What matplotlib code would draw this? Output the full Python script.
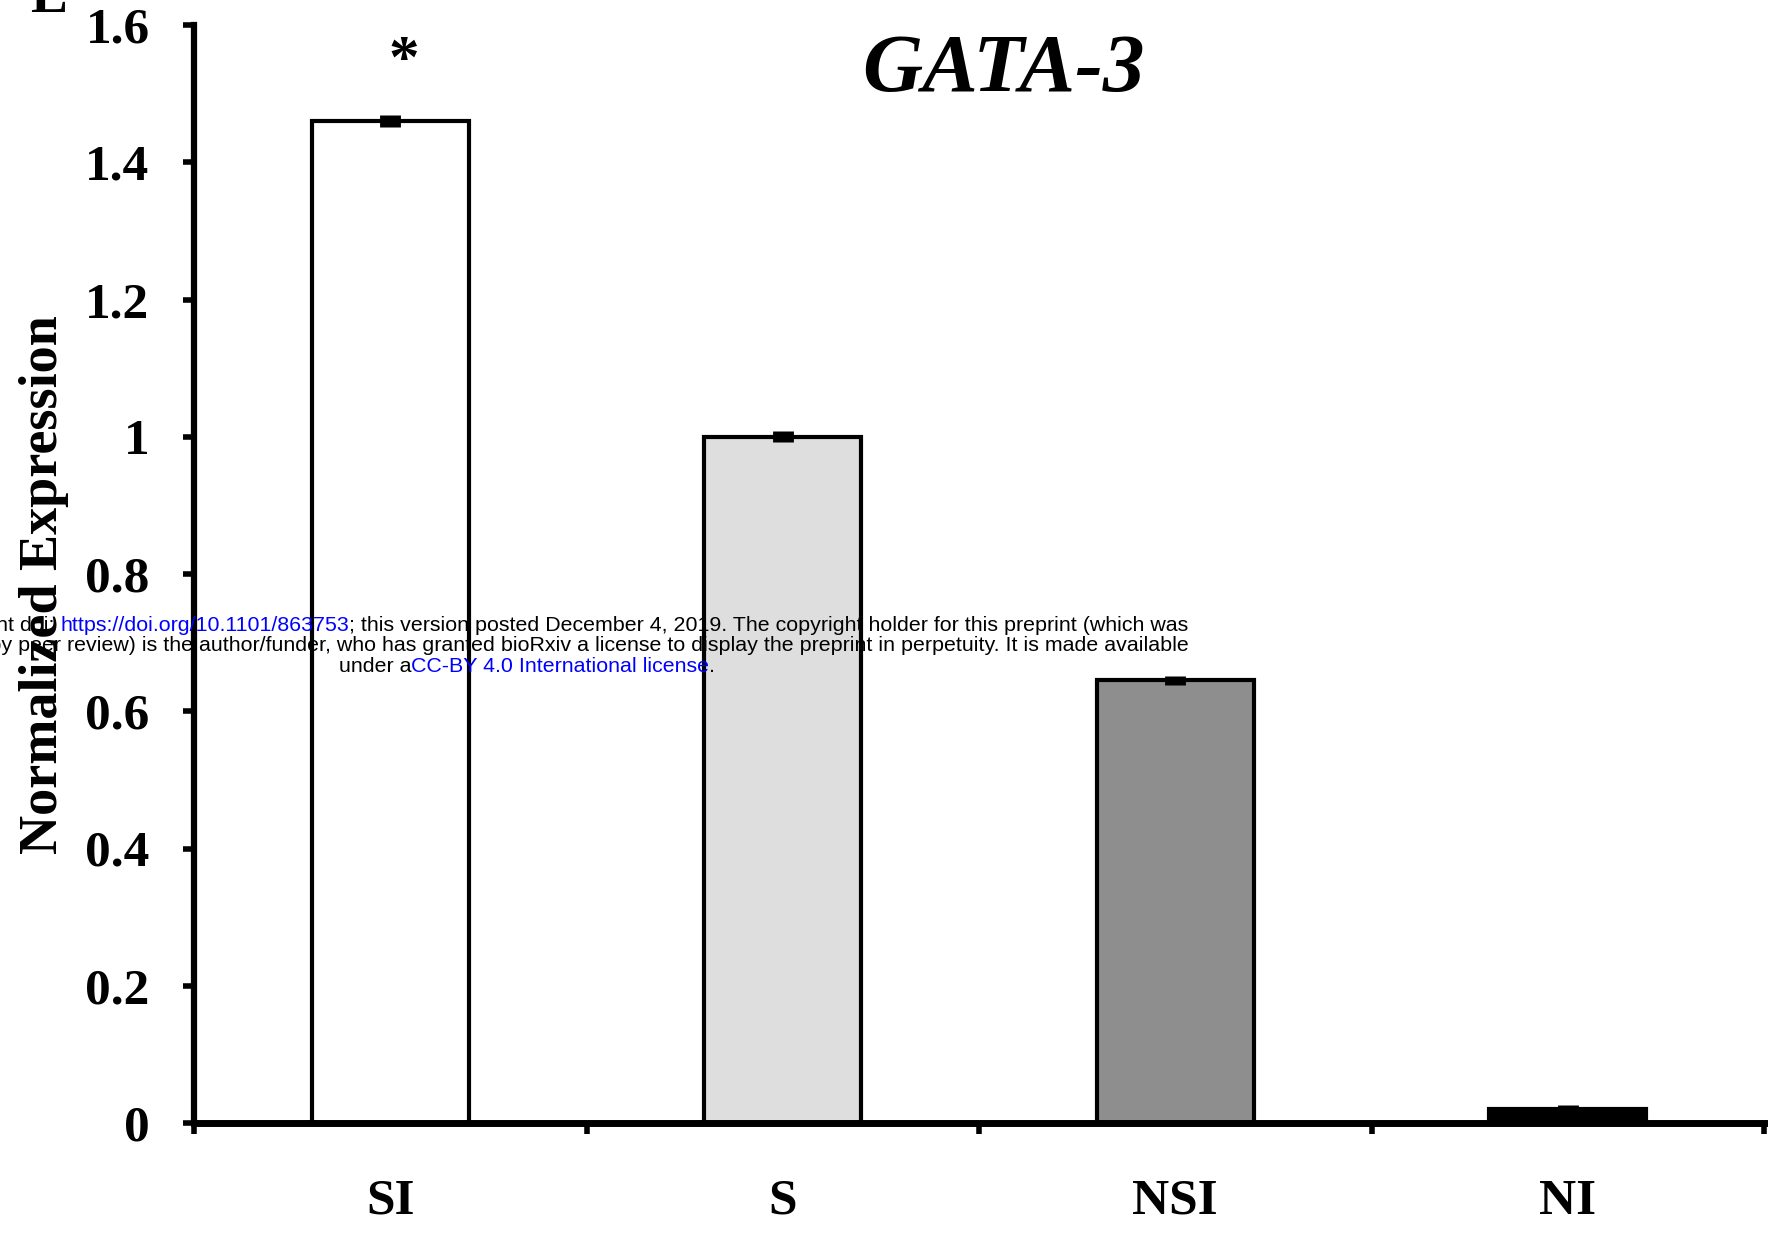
import numpy as np
import matplotlib
matplotlib.use('Agg')
import matplotlib.pyplot as plt

# GATA-3 expression per group
groups = ['SI', 'S', 'NSI', 'NI']
expression = [1.46, 1.0, 0.645, 0.02]
errors = [0.009, 0.008, 0.007, 0.006]
barColors = ['#ffffff', '#dedede', '#8e8e8e', '#000000']
significance = ['*', '', '', '']

yTicks = [0, 0.2, 0.4, 0.6, 0.8, 1.0, 1.2, 1.4, 1.6]
yTickLabels = ['0', '0.2', '0.4', '0.6', '0.8', '1', '1.2', '1.4', '1.6']

# preprint notice lines, (text, colour) pieces
notice = [
    [("bioRxiv preprint doi: ", 'black'),
     ("https://doi.org/10.1101/863753", 'blue'),
     ("; this version posted December 4, 2019. The copyright holder for this preprint (which was", 'black')],
    [("was not certified by peer review) is the author/funder, who has granted bioRxiv a license to display the preprint in perpetuity. It is made available", 'black')],
    [("under a", 'black'),
     ("CC-BY 4.0 International license", 'blue'),
     (".", 'black')],
]

W, H = 1773, 1233
plt.rcParams['font.family'] = ['Liberation Serif', 'DejaVu Serif']
plt.rcParams['font.weight'] = 'bold'

fig = plt.figure(figsize=(W / 100, H / 100), dpi=100)
ax = fig.add_axes([194 / W, 1 - 1123 / H, (1764 - 194) / W, (1123 - 25) / H])

x = np.arange(len(groups))
ax.bar(x, expression, width=0.40, color=barColors, edgecolor='black', linewidth=3.0, zorder=2)
ax.errorbar(x, expression, yerr=errors, fmt='none', ecolor='black', elinewidth=15, capsize=0, zorder=3)

for i in range(len(groups)):
    if significance[i]:
        ax.text(x[i] + 0.035, expression[i] + 0.045, significance[i], ha='center', va='bottom',
                fontsize=44, fontweight='bold')

ax.set_xlim(-0.5, len(groups) - 0.5)
ax.set_ylim(0, 1.6)

ax.set_xticks(np.arange(len(groups) + 1) - 0.5)
ax.set_xticklabels([])
ax.set_xticks(x, minor=True)
ax.set_xticklabels(groups, minor=True, fontsize=37, fontweight='bold')
ax.tick_params(axis='x', which='major', direction='out', length=8, width=4)
ax.tick_params(axis='x', which='minor', length=0, pad=40)

ax.set_yticks(yTicks)
ax.set_yticklabels(yTickLabels, fontsize=37, fontweight='bold')
ax.tick_params(axis='y', direction='out', length=8, width=4, pad=24)

ax.spines['top'].set_visible(False)
ax.spines['right'].set_visible(False)
ax.spines['left'].set_linewidth(4.5)
ax.spines['bottom'].set_linewidth(5)

ax.set_ylabel('Normalized Expression', fontsize=39, fontweight='bold')
ax.yaxis.set_label_coords(-(194 - 69) / (1764 - 194), 0.49)

fig.text(1003 / W, 1 - 72 / H, 'GATA-3', ha='center', va='center', fontsize=60,
         fontweight='bold', fontstyle='italic')

# panel letter, mostly above the page edge
fig.text(30 / W, 1 - 12 / H, 'E', ha='left', va='baseline', fontsize=40, fontweight='bold')

# notice text, chained pieces centred per line
lineBottoms = [598, 578, 557]
lineCentres = [527, 509, 527]
noticeSize = 15.4
lines = []
for pieces, yb, cx in zip(notice, lineBottoms, lineCentres):
    first = ax.annotate(pieces[0][0], xy=(0, yb), xycoords='figure pixels', color=pieces[0][1],
                        fontsize=noticeSize, fontweight='normal', family='Liberation Sans',
                        ha='left', va='bottom', zorder=10)
    prev = first
    for s, c in pieces[1:]:
        prev = ax.annotate(s, xy=(1, 0), xycoords=prev, color=c, fontsize=noticeSize,
                           fontweight='normal', family='Liberation Sans',
                           ha='left', va='bottom', zorder=10)
    lines.append((first, prev, yb, cx))

fig.canvas.draw()
renderer = fig.canvas.get_renderer()
for first, last, yb, cx in lines:
    width = last.get_window_extent(renderer).x1 - first.get_window_extent(renderer).x0
    first.xy = (cx - width / 2, yb)
    first.xyann = (cx - width / 2, yb)

fig.savefig('out.png', dpi=100)
